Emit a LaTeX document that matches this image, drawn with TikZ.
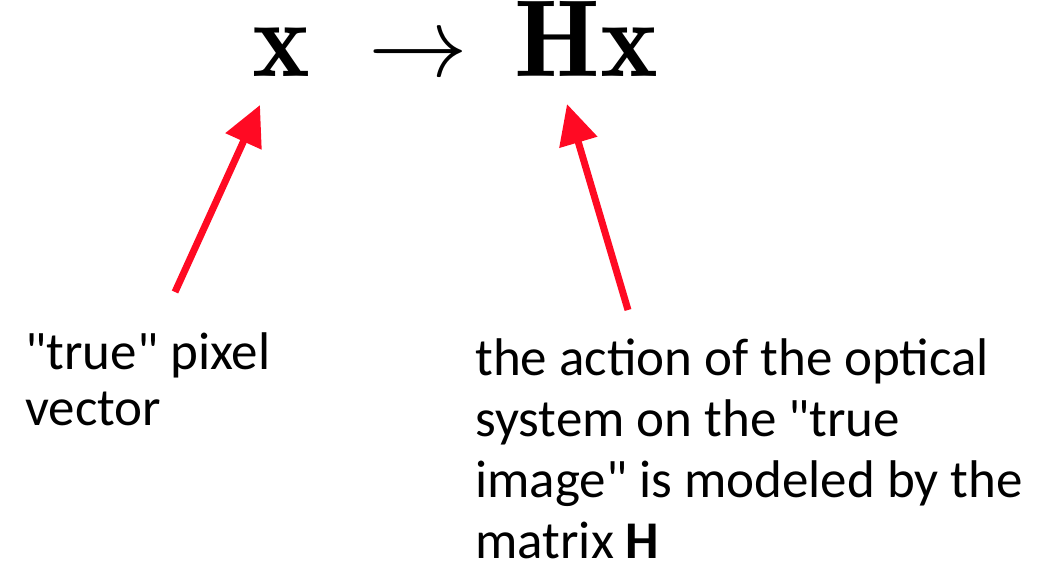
\documentclass[tikz,border=0pt]{standalone}
\usepackage{amsmath}
\usepackage{fontspec}
\usepackage{xcolor}
\usepackage{tikz}
\usetikzlibrary{arrows.meta,positioning,calc}
\newfontfamily\calib{Carlito}
\definecolor{pointred}{RGB}{255,10,35}

\begin{document}
\begin{tikzpicture}[x=0.5pt,y=-0.5pt,
    mathlab/.style={anchor=base west,inner sep=0pt,font=\Huge,scale=2.2},
    notelab/.style={anchor=base west,inner sep=0pt,align=left,font=\calib\fontsize{26.5}{30.5}\selectfont},
    pointer/.style={pointred,line width=3.5pt,-{Triangle[length=20pt,width=19pt]}}]
  \useasboundingbox (0,0) rectangle (1053,572);
  \node[mathlab] (xvec) at (252,77) {$\mathbf{x}$};
  \node[mathlab,scale=0.91] (mapto) at (368,77) {$\to$};
  \node[mathlab] (hx) at (514,77) {$\mathbf{Hx}$};
  % base anchor sits on the last line
  \node[notelab,font=\calib\fontsize{26.5}{28}\selectfont] (truelab) at (25,425) {"true" pixel\\vector};
  \node[notelab] (actionlab) at (475,558) {the action of the optical\\system on the "true\\image" is modeled by the\\matrix \textbf{H}};
  % pointers up to the formula
  \coordinate (xtail) at (175,292);
  \coordinate (xtip) at (260,105);
  \coordinate (htail) at (628,310);
  \coordinate (htip) at (567,104);
  \draw[pointer] (xtail) -- (xtip);
  \draw[pointer] (htail) -- (htip);
\end{tikzpicture}
\end{document}
